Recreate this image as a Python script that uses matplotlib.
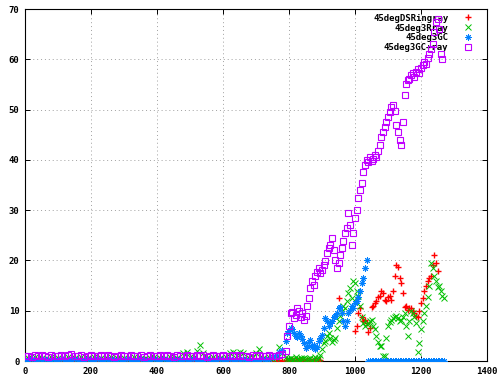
import numpy as np
import matplotlib.pyplot as plt

# flat part sampled every 10 steps, rising part every 5 steps
steps_flat = np.arange(0, 790, 10)
steps_rise = np.arange(790, 1275, 5)

# 45deg3GC+ray (squares)
gcray_flat = [0.9, 1.0, 0.8, 1.1, 0.9, 1.2, 1.0, 0.8, 1.1, 0.9,
              1.0, 1.2, 0.9, 1.1, 1.3, 1.0, 0.9, 1.1, 0.8, 1.0,
              1.1, 0.9, 1.0, 1.2, 0.9, 1.1, 1.0, 0.8, 1.0, 1.1,
              0.9, 1.0, 1.2, 1.0, 0.9, 1.1, 0.8, 1.0, 1.1, 0.9,
              1.0, 1.1, 0.9, 1.2, 1.0, 0.8, 1.1, 1.0, 0.9, 1.1,
              1.0, 0.9, 1.2, 1.0, 1.1, 0.8, 1.0, 1.1, 0.9, 1.0,
              1.1, 1.0, 0.9, 1.2, 1.0, 1.1, 0.9, 1.0, 0.8, 1.1,
              1.0, 1.2, 0.9, 1.0, 1.1, 1.0, 0.9, 1.2, 1.3]
gcray_rise = [2.0, 5.0, 7.0, 9.5, 9.8, 8.5, 9.2, 10.5, 10.0, 8.8,
              9.6, 8.2, 9.0, 11.0, 12.5, 14.5, 16.0, 15.2, 17.0, 17.8,
              18.5, 17.5, 18.2, 19.0, 19.8, 21.5, 22.5, 23.0, 24.5, 22.0,
              20.0, 18.5, 19.5, 21.0, 22.5, 23.8, 25.5, 26.5, 29.5, 27.0,
              23.0, 25.5, 28.5, 30.0, 32.5, 34.0, 35.5, 37.5, 39.0, 40.0,
              39.5, 40.5, 39.8, 40.2, 41.0, 40.5, 41.8, 43.0, 44.5, 45.5,
              46.5, 47.5, 48.5, 49.5, 50.5, 51.0, 49.8, 47.0, 45.5, 44.0,
              43.0, 47.5, 53.0, 55.0, 55.8, 56.0, 56.8, 57.2, 56.5, 57.5,
              58.0, 57.2, 58.2, 58.8, 59.5, 59.0, 60.2, 61.0, 62.0, 63.0,
              65.5, 67.5, 68.0, 66.0, 61.0, 60.0, np.nan]

# 45deg3GC (asterisks)
gc_flat = [0.3, 0.2, 0.4, 0.3, 0.2, 0.3, 0.4, 0.2, 0.3, 0.3,
           0.2, 0.4, 0.3, 0.3, 0.2, 0.4, 0.3, 0.2, 0.3, 0.4,
           0.3, 0.2, 0.4, 0.3, 0.2, 0.3, 0.4, 0.2, 0.3, 0.3,
           0.2, 0.4, 0.3, 0.3, 0.2, 0.4, 0.3, 0.2, 0.3, 0.4,
           0.3, 0.2, 0.4, 0.3, 0.2, 0.3, 0.4, 0.2, 0.3, 0.3,
           0.2, 0.4, 0.3, 0.3, 0.2, 0.4, 0.3, 0.2, 0.3, 0.4,
           0.3, 0.2, 0.4, 0.3, 0.2, 0.3, 0.4, 0.2, 0.3, 0.3,
           0.3, 0.2, 0.4, 0.3, 0.5, 0.8, 1.2, 1.8, 2.2]
gc_rise = [4.0, 5.5, 6.0, 6.5, 6.3, 5.5, 5.0, 4.8, 5.5, 5.0,
           4.3, 3.5, 2.5, 3.0, 3.8, 4.2, 2.8, 3.2, 2.4, 2.8,
           4.0, 4.5, 5.2, 6.5, 8.5, 8.0, 7.0, 7.6, 8.0, 8.8,
           9.0, 9.5, 10.5, 10.8, 9.5, 8.0, 7.0, 8.0, 9.5, 10.2,
           11.0, 10.5, 11.5, 12.0, 12.7, 14.0, 15.5, 16.5, 18.5, 20.0,
           0, 0, 0, 0, 0, 0, 0, 0, 0, 0,
           0, 0, 0, 0, 0, 0, 0, 0, 0, 0,
           0, 0, 0, 0, 0, 0, 0, 0, 0, 0,
           0, 0, 0, 0, 0, 0, 0, 0, 0, 0,
           0, 0, 0, 0, 0, 0, 0]

# 45deg3Rray (crosses)
rray_flat = [0.5, 0.6, 0.4, 0.7, 0.5, 0.6, 0.4, 0.5, 0.7, 0.5,
             0.6, 0.4, 0.5, 0.7, 0.5, 0.6, 0.4, 0.8, 0.5, 0.6,
             0.5, 0.7, 0.4, 0.6, 0.5, 0.5, 0.7, 0.4, 0.6, 0.5,
             0.6, 0.5, 0.4, 0.7, 0.5, 0.6, 0.5, 0.4, 0.6, 0.7,
             0.5, 0.6, 0.4, 0.5, 0.7, 0.5, 0.6, 0.4, 1.5, 1.8,
             0.8, 0.6, 2.0, 3.2, 1.5, 0.6, 0.5, 0.7, 0.5, 0.6,
             0.5, 0.7, 1.5, 1.8, 0.6, 1.8, 1.5, 0.5, 0.6, 0.7,
             1.5, 2.3, 0.6, 0.5, 0.7, 0.5, 0.6, 2.8, 1.5]
rray_rise = [0.8, 0.5, 0.4, 0.6, 0.3, 0.5, 0.7, 0.4, 0.5, 0.6,
             0.4, 0.6, 0.3, 0.5, 0.4, 0.6, 0.3, 0.5, 0.7, 0.4,
             0.6, 1.2, 2.4, 3.5, 4.0, 5.0, 5.5, 4.5, 3.7, 4.2,
             4.5, 6.5, 8.0, 9.0, 10.0, 11.0, 10.5, 12.0, 13.5, 14.5,
             12.5, 16.0, 15.5, 14.0, 13.0, 11.0, 8.8, 7.5, 7.0, 7.3,
             7.6, 8.0, 8.2, 7.0, 6.3, 5.0, 3.7, 3.0, 3.0, 1.0,
             1.0, 4.5, 7.0, 7.8, 8.2, 8.5, 8.8, 9.0, 8.5, 8.0,
             8.2, 8.8, 9.5, 7.0, 5.0, 8.0, 10.0, 9.5, 8.8, 7.5,
             1.7, 3.5, 6.3, 8.0, 9.6, 11.0, 12.7, 15.0, 19.4, 18.5,
             17.0, 16.0, 14.7, 15.0, 14.0, 13.0, 12.5]

# 45degDSRingray (plus)
ring_flat = [0.1, 0.2, 0.1, 0.1, 0.2, 0.1, 0.2, 0.1, 0.1, 0.2,
             0.1, 0.1, 0.2, 0.1, 0.2, 0.1, 0.1, 0.2, 0.1, 0.1,
             0.2, 0.1, 0.1, 0.2, 0.1, 0.2, 0.1, 0.1, 0.2, 0.1,
             0.1, 0.2, 0.1, 0.1, 0.2, 0.1, 0.2, 0.1, 0.1, 0.2,
             0.1, 0.1, 0.2, 0.1, 0.2, 0.1, 0.1, 0.2, 0.1, 0.1,
             0.2, 0.1, 0.1, 0.2, 0.1, 0.2, 0.1, 0.1, 0.2, 0.1,
             0.1, 0.2, 0.1, 0.1, 0.2, 0.1, 0.2, 0.1, 0.1, 0.2,
             0.1, 0.1, 0.2, 0.1, 0.2, 0.1, 0.1, 0.2, 0.1]
nan = np.nan
ring_rise = [0.2, 0.3, 0.1, 0.2, 0.3, 0.2, 0.1, 0.3, 0.2, 0.2,
             0.3, 0.2, 0.1, 0.2, 0.3, 0.2, 0.1, 0.3, 0.2, 0.2,
             0.3, 0.2, nan, nan, nan, nan, nan, nan, nan, nan,
             nan, nan, 12.5, nan, nan, nan, nan, nan, nan, nan,
             nan, nan, 6.0, 7.0, 9.6, 10.5, 8.8, 8.0, 8.2, 7.5,
             5.7, 6.5, 10.8, 11.0, 11.5, 12.0, 12.7, 13.0, 14.0, 13.5,
             12.2, 12.0, 12.7, 13.0, 12.2, 14.0, 17.0, 19.0, 18.6, 16.5,
             15.5, 13.5, 10.8, 11.0, 10.2, 10.5, 10.6, 10.0, 9.5, 9.0,
             8.8, 10.0, 11.5, 12.5, 14.0, 15.0, 16.0, 16.5, 17.0, 19.0,
             21.0, 19.5, 18.0, nan, nan, nan, nan]

labels = ["45degDSRingray", "45deg3Rray", "45deg3GC", "45deg3GC+ray"]
colors = ["#ff0000", "#00c000", "#0080ff", "#c000ff"]

mono = "DejaVu Sans Mono"
steps = np.concatenate([steps_flat, steps_rise])

fig = plt.figure(figsize=(5.0, 3.83), dpi=100)
ax = fig.add_axes([0.05, 0.0574, 0.924, 0.919])

ax.plot(steps, ring_flat + ring_rise, linestyle="none", marker="+",
        ms=5, mew=1.0, color=colors[0], label=labels[0], zorder=3)
ax.plot(steps, rray_flat + rray_rise, linestyle="none", marker="x",
        ms=4.2, mew=0.7, color=colors[1], label=labels[1], zorder=3)
ax.plot(steps, gc_flat + gc_rise, linestyle="none", marker=(8, 2, 0),
        ms=4.5, mew=0.7, color=colors[2], label=labels[2], zorder=3)
ax.plot(steps, gcray_flat + gcray_rise, linestyle="none", marker="s",
        ms=3.8, mew=0.8, mfc="none", color=colors[3], label=labels[3], zorder=4)

ax.set_xlim(0, 1400)
ax.set_ylim(0, 70)
ax.set_xticks(range(0, 1401, 200))
ax.set_yticks(range(0, 71, 10))
ax.grid(True, color="#a0a0a0", linestyle=(0, (1, 3)), linewidth=0.7)
ax.set_axisbelow(True)
ax.tick_params(direction="in", top=True, right=True, length=3.5, width=0.7,
               labelsize=6.5, pad=4)
for lab in ax.get_xticklabels() + ax.get_yticklabels():
    lab.set_family(mono)
    lab.set_weight("bold")
for sp in ax.spines.values():
    sp.set_linewidth(0.8)

leg = ax.legend(loc="upper right", bbox_to_anchor=(0.985, 1.005), frameon=False,
                markerfirst=False, handlelength=1.2, handletextpad=1.6,
                labelspacing=0.1, borderpad=0.2,
                prop=dict(family=mono, weight="bold", size=6.5))
leg.set_zorder(2)

fig.savefig("out.png", dpi=100)
